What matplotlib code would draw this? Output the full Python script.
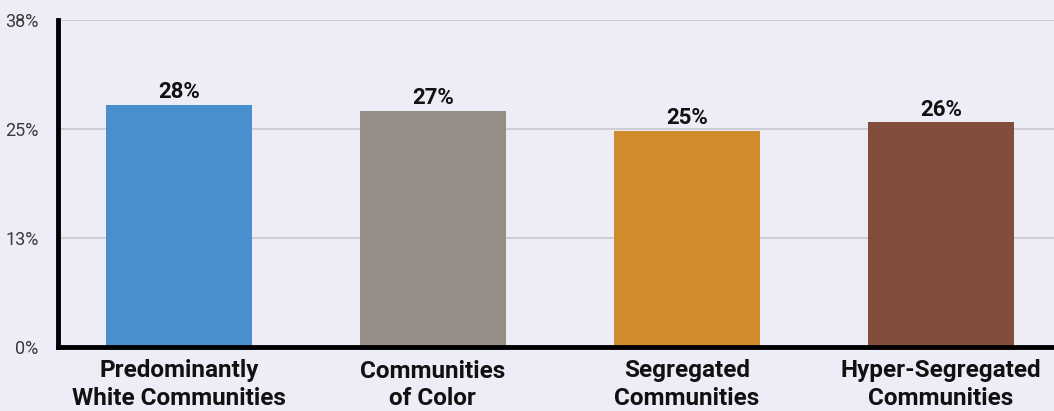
import matplotlib
matplotlib.use("Agg")
import matplotlib.pyplot as plt

categories = ["Predominantly\nWhite Communities", "Communities\nof Color",
              "Segregated\nCommunities", "Hyper-Segregated\nCommunities"]
values = [27.8, 27.1, 24.8, 25.8]
value_labels = ["28%", "27%", "25%", "26%"]
yticks = [0, 12.5, 25, 37.5]
ytick_labels = ["0%", "13%", "25%", "38%"]
colors = ["#4a8fcd", "#968d86", "#d08c2c", "#834d3c"]

bg = "#ecedf7"
plt.rcParams['font.family'] = ['Roboto', 'DejaVu Sans']

fig = plt.figure(figsize=(10.54, 4.11), dpi=100, facecolor=bg)
ax = fig.add_axes([58/1054, 1 - 347/411, (1054-58)/1054, (347-20)/411])
ax.set_facecolor(bg)

x = list(range(len(categories)))
bars = ax.bar(x, values, width=0.575, color=colors, zorder=3)
for xi, v, lab in zip(x, values, value_labels):
    ax.text(xi, v + 0.15, lab, ha='center', va='bottom', fontsize=16,
            fontweight='bold', color='#111111', zorder=4)

ax.set_xlim(-0.476, 3.445)
ax.set_ylim(0, 37.5)
ax.set_yticks(yticks)
ax.set_yticklabels(ytick_labels, fontsize=13, color='#3a3a3a')
ax.set_xticks(x)
ax.set_xticklabels(categories, fontsize=17.5, fontweight='bold', color='#111111',
                   linespacing=1.25)
ax.tick_params(axis='y', length=0, pad=14)
ax.tick_params(axis='x', length=0, pad=9)
ax.grid(axis='y', color='#c8c8cc', linewidth=1.2, zorder=0)
for s in ['top', 'right']:
    ax.spines[s].set_visible(False)
for s in ['left', 'bottom']:
    ax.spines[s].set_linewidth(3.5)
    ax.spines[s].set_color('black')
    ax.spines[s].set_zorder(5)

fig.savefig("out.png", dpi=100, facecolor=bg)
